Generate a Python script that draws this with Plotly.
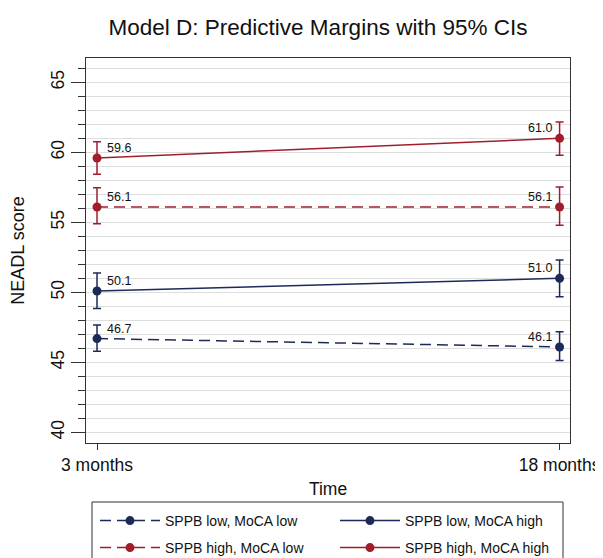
import plotly.graph_objects as go

# ---------------- data ----------------
time_labels = ["3 months", "18 months"]
time_pos = [0, 1]

series_names = ["SPPB low, MoCA low", "SPPB low, MoCA high",
                "SPPB high, MoCA low", "SPPB high, MoCA high"]

low_low_mean = [46.7, 46.1]
low_low_lo = [45.79, 45.14]
low_low_hi = [47.66, 47.19]

low_high_mean = [50.1, 51.0]
low_high_lo = [48.84, 49.69]
low_high_hi = [51.39, 52.31]

high_low_mean = [56.1, 56.1]
high_low_lo = [54.90, 54.79]
high_low_hi = [57.48, 57.52]

high_high_mean = [59.6, 61.0]
high_high_lo = [58.43, 59.79]
high_high_hi = [60.76, 62.16]

y_ticks = [40, 45, 50, 55, 60, 65]

# ---------------- styling ----------------
NAVY = "#1c2a59"
RED = "#a01e2c"
FONT = "Liberation Sans, Arial, sans-serif"
AXIS = "#333333"
GRID = "#dedede"
TXT = "#111111"

# page body has an 8px margin: figure is sized to fit the 603x558 window
OFF = 8
W, H = 603 - OFF, 558 - OFF


def wx(p):  # window px -> figure px
    return p - OFF


L, R = wx(86), W - wx(570)
T, B = wx(58), H - wx(443)
pw, ph = W - L - R, H - T - B


def px_x(p):  # window px -> paper x
    return (wx(p) - L) / pw


def px_y(p):  # window px -> paper y
    return (H - B - wx(p)) / ph


series = [
    (series_names[0], low_low_mean, low_low_lo, low_low_hi, NAVY, "11px,6px", "legend", 95, 521),
    (series_names[1], low_high_mean, low_high_lo, low_high_hi, NAVY, "solid", "legend2", 335, 521),
    (series_names[2], high_low_mean, high_low_lo, high_low_hi, RED, "11px,6px", "legend3", 95, 548),
    (series_names[3], high_high_mean, high_high_lo, high_high_hi, RED, "solid", "legend4", 335, 548),
]

fig = go.Figure()
annotations = []
legends = {}
for name, mean, lo, hi, col, dash, leg, lx, ly in series:
    fig.add_trace(go.Scatter(
        x=time_pos, y=mean, name=name, mode="lines+markers",
        line=dict(color=col, width=1.5, dash=dash),
        marker=dict(color=col, size=9, symbol="circle"),
        error_y=dict(type="data", symmetric=False,
                     array=[h - m for h, m in zip(hi, mean)],
                     arrayminus=[m - l for m, l in zip(mean, lo)],
                     color=col, thickness=1.5, width=4),
        legend=leg, showlegend=True,
    ))
    legends[leg] = dict(orientation="h", x=px_x(lx), xanchor="left",
                        y=px_y(ly), yanchor="middle", itemwidth=60,
                        bgcolor="rgba(0,0,0,0)", borderwidth=0,
                        font=dict(family=FONT, size=14, color=TXT))
    for i, (xv, yv) in enumerate(zip(time_pos, mean)):
        annotations.append(dict(
            x=xv, y=yv, xref="x", yref="y", text=f"{yv:.1f}", showarrow=False,
            xanchor="left" if i == 0 else "right", yanchor="middle",
            xshift=8 if i == 0 else -6, yshift=10,
            font=dict(family=FONT, size=12.5, color=TXT),
        ))

fig.update_layout(
    width=W, height=H, showlegend=True,
    margin=dict(l=L, r=R, t=T, b=B, autoexpand=False),
    paper_bgcolor="white", plot_bgcolor="white",
    font=dict(family=FONT, color=TXT),
    title=dict(text="Model D: Predictive Margins with 95% CIs",
               x=wx(318) / W, xref="container", xanchor="center",
               y=1 - wx(27) / H, yref="container", yanchor="middle",
               font=dict(family=FONT, size=22.5, color=TXT)),
    annotations=annotations,
    shapes=[dict(type="rect", xref="paper", yref="paper",
                 x0=px_x(92), x1=px_x(563), y0=px_y(502), y1=px_y(590),
                 line=dict(color=AXIS, width=1), fillcolor="rgba(0,0,0,0)")],
    xaxis=dict(range=[-0.0238, 1.0225], tickvals=time_pos, ticktext=time_labels,
               ticks="outside", ticklen=6, tickcolor=AXIS, tickwidth=1,
               showgrid=False, zeroline=False,
               showline=True, linecolor=AXIS, linewidth=1.3, mirror=True,
               tickfont=dict(family=FONT, size=17.5, color=TXT),
               title=dict(text="Time", standoff=8,
                          font=dict(family=FONT, size=17.5, color=TXT))),
    yaxis=dict(range=[39.24, 66.74], tickvals=y_ticks, tickangle=-90,
               ticks="outside", ticklen=14, tickcolor=AXIS, tickwidth=1,
               showgrid=True, gridcolor=GRID, gridwidth=1, zeroline=False,
               minor=dict(dtick=1, tick0=0, ticks="outside", ticklen=7,
                          tickcolor=AXIS, tickwidth=1, showgrid=True,
                          gridcolor=GRID, gridwidth=1),
               showline=True, linecolor=AXIS, linewidth=1.3, mirror=True,
               tickfont=dict(family=FONT, size=17.5, color=TXT),
               title=dict(text="NEADL score", standoff=18,
                          font=dict(family=FONT, size=18, color=TXT))),
    **legends,
)

fig.write_html("out.html")
